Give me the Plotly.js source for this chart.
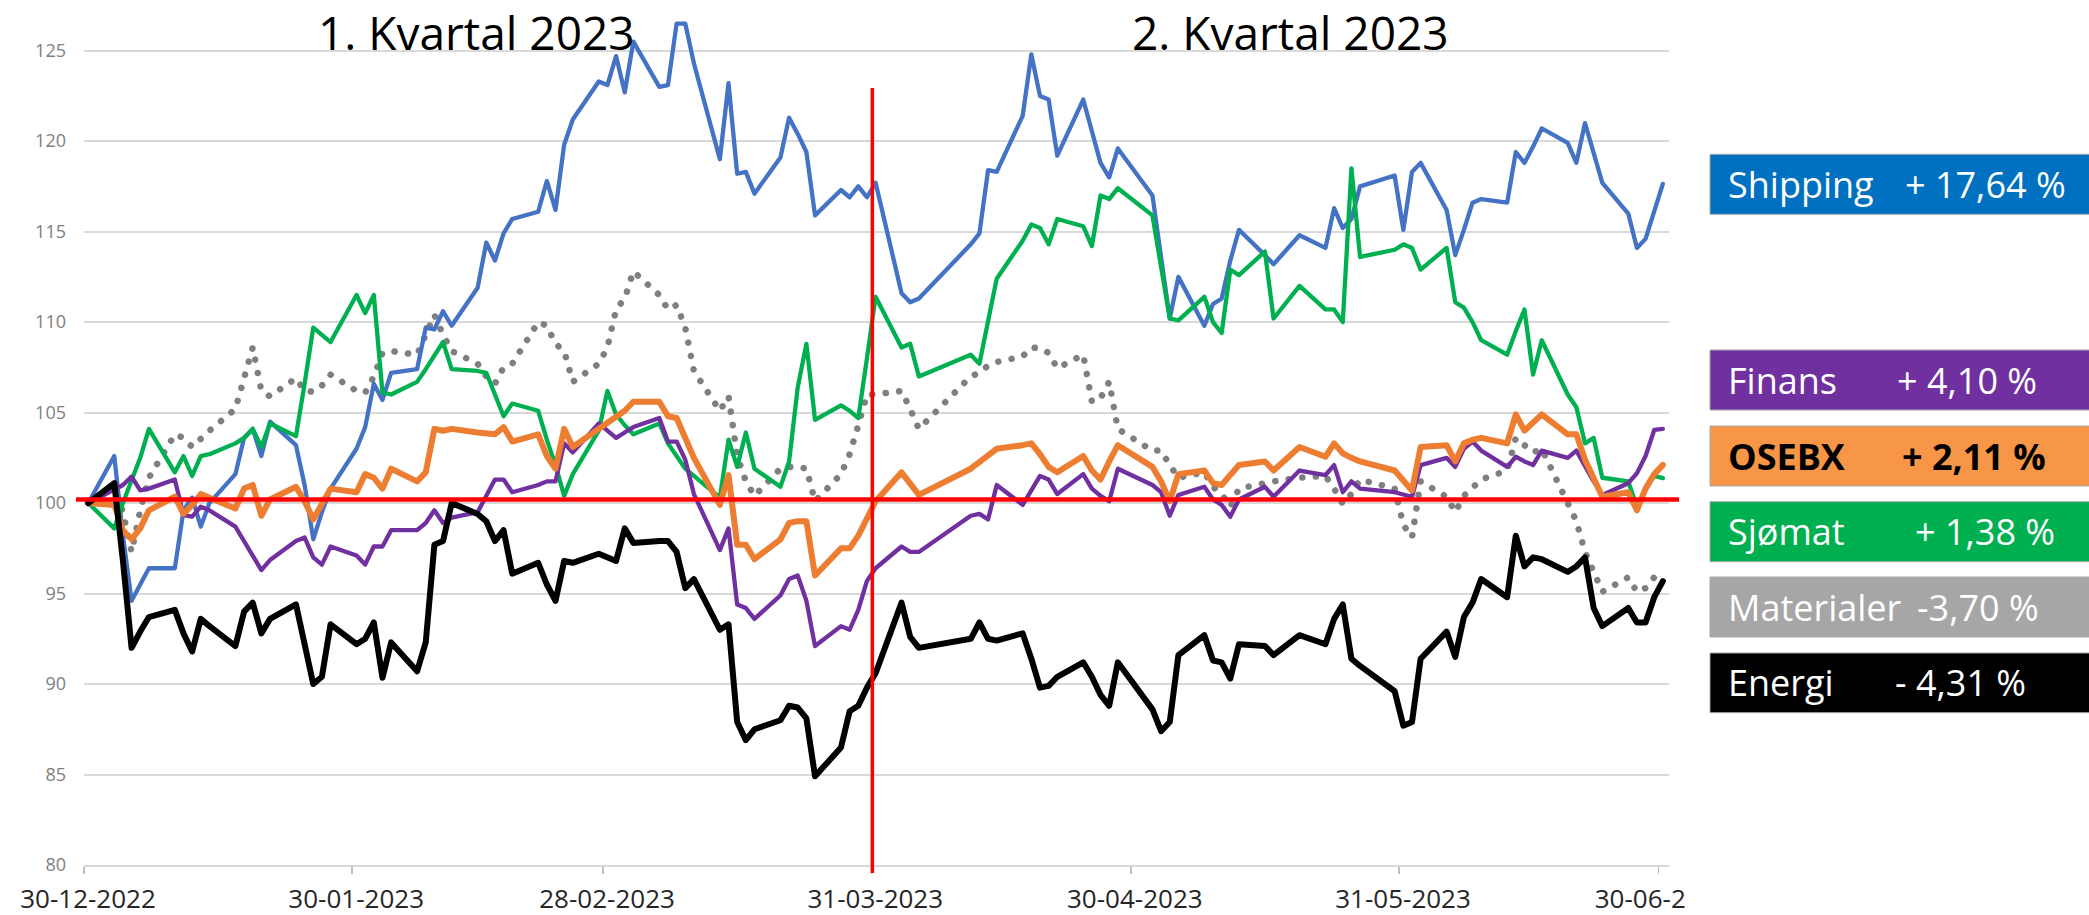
<!DOCTYPE html>
<html>
<head>
<meta charset="utf-8">
<script src="https://cdn.plot.ly/plotly-3.0.1.min.js"></script>
<style>
html,body{margin:0;padding:0;background:#ffffff;}
#chart{width:2089px;height:915px;}
.scatterlayer .js-line{stroke-linejoin:round;stroke-linecap:round;}
</style>
</head>
<body>
<div id="chart"></div>
<script>
// ---------- DATA ----------
const dates = [
 '2022-12-30',
 '2023-01-02','2023-01-03','2023-01-04','2023-01-05','2023-01-06',
 '2023-01-09','2023-01-10','2023-01-11','2023-01-12','2023-01-13',
 '2023-01-16','2023-01-17','2023-01-18','2023-01-19','2023-01-20',
 '2023-01-23','2023-01-24','2023-01-25','2023-01-26','2023-01-27',
 '2023-01-30','2023-01-31','2023-02-01','2023-02-02','2023-02-03',
 '2023-02-06','2023-02-07','2023-02-08','2023-02-09','2023-02-10',
 '2023-02-13','2023-02-14','2023-02-15','2023-02-16','2023-02-17',
 '2023-02-20','2023-02-21','2023-02-22','2023-02-23','2023-02-24',
 '2023-02-27','2023-02-28','2023-03-01','2023-03-02','2023-03-03',
 '2023-03-06','2023-03-07','2023-03-08','2023-03-09','2023-03-10',
 '2023-03-13','2023-03-14','2023-03-15','2023-03-16','2023-03-17',
 '2023-03-20','2023-03-21','2023-03-22','2023-03-23','2023-03-24',
 '2023-03-27','2023-03-28','2023-03-29','2023-03-30','2023-03-31',
 '2023-04-03','2023-04-04','2023-04-05',
 '2023-04-11','2023-04-12','2023-04-13','2023-04-14',
 '2023-04-17','2023-04-18','2023-04-19','2023-04-20','2023-04-21',
 '2023-04-24','2023-04-25','2023-04-26','2023-04-27','2023-04-28',
 '2023-05-02','2023-05-03','2023-05-04','2023-05-05',
 '2023-05-08','2023-05-09','2023-05-10','2023-05-11','2023-05-12',
 '2023-05-15','2023-05-16','2023-05-19',
 '2023-05-22','2023-05-23','2023-05-24','2023-05-25','2023-05-26',
 '2023-05-30','2023-05-31','2023-06-01','2023-06-02',
 '2023-06-05','2023-06-06','2023-06-07','2023-06-08','2023-06-09',
 '2023-06-12','2023-06-13','2023-06-14','2023-06-15','2023-06-16',
 '2023-06-19','2023-06-20','2023-06-21','2023-06-22','2023-06-23',
 '2023-06-26','2023-06-27','2023-06-28','2023-06-29','2023-06-30'
];

const shipping = [
 100, 102.6, 98.2, 94.6, 95.5, 96.4, 96.4, 99.6, 100.3, 98.7,
 100.0, 101.6, 103.6, 104.1, 102.6, 104.5, 103.2, 101.0, 98.0, 99.5,
 100.8, 103.0, 104.2, 106.6, 105.7, 107.2, 107.4, 109.7, 109.6, 110.6,
 109.8, 111.9, 114.4, 113.4, 114.9, 115.7, 116.1, 117.8, 116.2, 119.8,
 121.2, 123.3, 123.1, 124.7, 122.7, 125.5, 123.0, 123.1, 126.5, 126.5,
 124.3, 119.0, 123.2, 118.2, 118.3, 117.1, 119.1, 121.3, 120.4, 119.4,
 115.9, 117.3, 116.9, 117.5, 116.9, 117.7, 111.6, 111.1, 111.3, 114.3,
 114.9, 118.4, 118.3, 121.4, 124.8, 122.5, 122.3, 119.2, 122.3, 120.5,
 118.8, 118.0, 119.6, 117.0, 113.5, 110.2, 112.5, 109.8, 111.0, 111.3,
 113.4, 115.1, 113.7, 113.2, 114.8, 114.1, 116.3, 115.2, 115.7, 117.5,
 118.1, 115.1, 118.3, 118.8, 116.2, 113.7, 115.1, 116.6, 116.8, 116.6,
 119.4, 118.8, 119.7, 120.7, 119.9, 118.8, 121.0, 119.3, 117.7, 116.0,
 114.1, 114.6, 116.2, 117.64
];

const sjomat = [
 100, 98.6, 100.0, 101.2, 102.5, 104.1, 101.7, 102.6, 101.5, 102.6,
 102.7, 103.3, 103.6, 104.1, 103.1, 104.4, 103.7, 106.6, 109.7, 109.3,
 108.9, 111.5, 110.5, 111.5, 106.1, 106.0, 106.7, 107.4, 108.1, 108.9,
 107.4, 107.3, 107.2, 106.0, 104.8, 105.5, 105.1, 103.5, 102.1, 100.4,
 101.6, 104.0, 106.2, 104.9, 104.3, 103.8, 104.4, 103.3, 102.6, 101.9,
 101.5, 100.3, 103.5, 102.0, 103.9, 101.9, 100.9, 102.3, 106.4, 108.8,
 104.6, 105.4, 105.1, 104.7, 108.0, 111.4, 108.6, 108.8, 107.0, 108.2,
 107.7, 110.0, 112.4, 114.5, 115.4, 115.2, 114.3, 115.7, 115.3, 114.2,
 117.0, 116.8, 117.4, 115.9, 113.0, 110.2, 110.1, 111.4, 110.0, 109.4,
 112.9, 112.6, 113.9, 110.2, 112.0, 110.7, 110.7, 110.0, 118.5, 113.6,
 114.0, 114.3, 114.1, 112.9, 114.1, 111.1, 110.8, 110.0, 109.0, 108.2,
 109.5, 110.7, 107.1, 109.0, 106.0, 105.3, 103.3, 103.6, 101.4, 101.2,
 99.8, 100.8, 101.5, 101.38
];

const osebx = [
 100, 99.9, 98.5, 98.0, 98.6, 99.6, 100.35, 99.4, 99.9, 100.5,
 100.3, 99.7, 100.8, 101.0, 99.3, 100.2, 100.9, 100.1, 99.1, 100.0,
 100.8, 100.6, 101.6, 101.4, 100.8, 101.9, 101.2, 101.7, 104.1, 104.0,
 104.1, 103.9, 103.85, 103.8, 104.2, 103.4, 103.8, 102.6, 101.9, 104.1,
 103.1, 104.1, 104.4, 104.7, 105.1, 105.6, 105.6, 104.8, 104.7, 103.6,
 102.5, 99.9, 101.55, 97.7, 97.7, 96.9, 98.0, 98.9, 99.0, 99.0,
 96.0, 97.5, 97.5, 98.2, 99.2, 100.1, 101.7, 101.1, 100.45, 101.9,
 102.3, 102.6, 103.0, 103.2, 103.3, 102.7, 102.0, 101.7, 102.6, 101.8,
 101.3, 102.3, 103.2, 102.0, 101.2, 100.1, 101.6, 101.8, 101.1, 101.0,
 101.6, 102.1, 102.3, 101.8, 103.1, 102.56, 103.3, 102.75, 102.5, 102.3,
 101.8, 101.2, 100.7, 103.1, 103.2, 102.3, 103.3, 103.5, 103.6, 103.3,
 104.9, 104.0, 104.5, 104.9, 103.8, 103.8, 102.4, 101.4, 100.35, 100.6,
 99.6, 100.8, 101.6, 102.11
];

const finans = [
 100, 100.8, 101.0, 101.46, 100.7, 100.8, 101.3, 99.34, 99.25, 99.8,
 99.6, 98.7, 97.9, 97.1, 96.3, 96.85, 97.9, 98.1, 97.0, 96.6,
 97.6, 97.1, 96.6, 97.6, 97.6, 98.5, 98.5, 98.9, 99.6, 98.9,
 99.2, 99.5, 100.4, 101.3, 101.3, 100.6, 101.0, 101.2, 101.2, 103.3,
 102.8, 104.4, 104.0, 103.6, 103.9, 104.2, 104.7, 103.4, 103.4, 102.4,
 100.5, 97.4, 98.6, 94.4, 94.2, 93.6, 94.9, 95.8, 96.0, 94.6,
 92.1, 93.2, 93.0, 94.1, 95.7, 96.4, 97.6, 97.3, 97.3, 99.3,
 99.4, 99.1, 101.0, 99.9, 100.7, 101.5, 101.3, 100.5, 101.6, 100.8,
 100.4, 100.1, 101.9, 101.0, 100.6, 99.3, 100.45, 100.9, 100.2, 99.9,
 99.25, 100.2, 100.9, 100.35, 101.8, 101.55, 102.1, 100.6, 101.2, 100.8,
 100.6, 100.5, 100.35, 102.1, 102.5, 102.0, 103.0, 103.4, 102.9, 102.0,
 102.56, 102.3, 102.1, 102.9, 102.5, 102.9, 102.0, 101.2, 100.45, 101.1,
 101.65, 102.6, 104.04, 104.1
];

const materialer = [
 100, 100.9, 99.5, 97.3, 99.6, 101.4, 103.8, 103.6, 103.1, 103.6,
 104.0, 105.2, 106.8, 108.6, 106.2, 105.9, 106.9, 106.2, 106.15, 106.5,
 107.1, 106.2, 106.1, 107.0, 108.3, 108.4, 108.2, 109.3, 110.4, 109.3,
 108.4, 107.7, 107.0, 106.6, 107.5, 107.7, 110.0, 109.8, 108.8, 108.4,
 106.7, 107.7, 108.6, 110.7, 111.3, 112.8, 111.5, 110.7, 110.95, 109.7,
 107.3, 105.1, 105.9, 102.6, 101.2, 100.4, 101.9, 102.0, 102.0, 101.9,
 100.1, 101.6, 102.7, 104.3, 106.0, 106.0, 106.2, 105.2, 104.1, 107.0,
 107.2, 107.6, 107.8, 108.1, 108.6, 108.55, 108.3, 107.45, 108.2, 105.6,
 105.8, 106.7, 104.1, 102.9, 102.9, 102.1, 101.4, 101.7, 100.9, 100.5,
 99.8, 100.8, 101.1, 101.2, 101.4, 101.5, 100.8, 99.95, 100.5, 101.3,
 100.8, 98.8, 98.1, 101.2, 100.35, 99.5, 100.4, 100.9, 101.3, 101.8,
 103.6, 103.2, 102.8, 103.0, 99.9, 99.0, 97.3, 96.3, 95.1, 95.9,
 95.1, 95.3, 95.9, 96.3
];

const energi = [
 100, 101.1, 96.8, 92.0, 92.9, 93.7, 94.1, 92.8, 91.8, 93.6,
 93.2, 92.1, 94.0, 94.5, 92.8, 93.6, 94.4, 92.3, 90.0, 90.4,
 93.3, 92.2, 92.5, 93.4, 90.35, 92.3, 90.7, 92.3, 97.7, 97.9,
 100.0, 99.4, 99.0, 97.9, 98.5, 96.1, 96.7, 95.5, 94.6, 96.8,
 96.7, 97.2, 97.0, 96.8, 98.6, 97.8, 97.9, 97.9, 97.3, 95.3,
 95.8, 93.0, 93.3, 87.9, 86.9, 87.5, 88.0, 88.8, 88.7, 88.1,
 84.9, 86.5, 88.5, 88.8, 89.8, 90.6, 94.5, 92.6, 92.0, 92.5,
 93.4, 92.5, 92.4, 92.8, 91.4, 89.8, 89.9, 90.4, 91.2, 90.4,
 89.4, 88.8, 91.2, 88.6, 87.4, 87.9, 91.6, 92.7, 91.3, 91.2,
 90.3, 92.2, 92.1, 91.6, 92.7, 92.2, 93.6, 94.4, 91.4, 91.0,
 89.6, 87.7, 87.9, 91.4, 92.9, 91.5, 93.7, 94.5, 95.8, 94.8,
 98.2, 96.5, 97.0, 96.9, 96.2, 96.5, 97.0, 94.2, 93.2, 94.2,
 93.4, 93.4, 94.8, 95.69
];

const tickDates  = ['2022-12-30','2023-01-30','2023-02-28','2023-03-31','2023-04-30','2023-05-31','2023-06-30'];
const tickLabels = ['30-12-2022','30-01-2023','28-02-2023','31-03-2023','30-04-2023','31-05-2023','30-06-2023'];
const yTicks = [80, 85, 90, 95, 100, 105, 110, 115, 120, 125];

const quarterTitles = ['1. Kvartal 2023', '2. Kvartal 2023'];
const boxNames  = ['Shipping', 'Finans', 'OSEBX', 'Sjømat', 'Materialer', 'Energi'];
const boxValues = ['+ 17,64 %', '+ 4,10 %', '+ 2,11 %', '+ 1,38 %', '-3,70 %', '- 4,31 %'];
const baseLevel = 100.2;         // red reference line level
const quarterSplit = '2023-03-30 15:00';

// ---------- LAYOUT GEOMETRY (pixels) ----------
const W = 2089, H = 915;
const PL = 84, PR = 1669, PT = 2, PB = 865;
const pw = PR - PL, ph = PB - PT;
const px2x = p => (p - PL) / pw;
const px2y = p => (PB - p) / ph;
const yTop = 80 + ph / 18.096;

const font = "'Open Sans', 'Noto Sans', sans-serif";

const seriesStyle = [
  {name: boxNames[4], y: materialer, color: '#7F7F7F', width: 6.5, dash: '0.1px,13.5px'},
  {name: boxNames[0], y: shipping,   color: '#4472C4', width: 4.3, dash: 'solid'},
  {name: boxNames[3], y: sjomat,     color: '#00B050', width: 4.3, dash: 'solid'},
  {name: boxNames[1], y: finans,     color: '#7030A0', width: 4.3, dash: 'solid'},
  {name: boxNames[2], y: osebx,      color: '#ED7D31', width: 6,   dash: 'solid'},
  {name: boxNames[5], y: energi,     color: '#000000', width: 6,   dash: 'solid'}
];

const traces = seriesStyle.map(s => ({
  type: 'scatter', mode: 'lines', name: s.name,
  x: dates, y: s.y,
  line: {color: s.color, width: s.width, dash: s.dash, shape: 'linear'},
  hoverinfo: 'skip'
}));

// ticks sit between day slots (half a day before the date)
const halfDay = 12 * 3600 * 1000;
const tickPos = tickDates.map(d => Date.parse(d + 'T00:00:00Z') - halfDay);

const shapes = [];
const annotations = [];

// red reference lines
shapes.push({type: 'line', xref: 'paper', yref: 'y', x0: px2x(76), x1: px2x(1679),
  y0: baseLevel, y1: baseLevel, line: {color: '#FF0000', width: 4.5}, layer: 'above'});
shapes.push({type: 'line', xref: 'x', yref: 'paper', x0: quarterSplit, x1: quarterSplit,
  y0: px2y(873), y1: px2y(88), line: {color: '#FF0000', width: 3.5}, layer: 'above'});

// cover the cut-off part of the last date label (as in the reference)
shapes.push({type: 'rect', xref: 'paper', yref: 'paper', x0: px2x(1686), x1: px2x(1770),
  y0: px2y(915), y1: px2y(874), fillcolor: '#ffffff', line: {width: 0}, layer: 'above'});

// quarter titles
[[476.6, quarterTitles[0]], [1290.5, quarterTitles[1]]].forEach(([cx, t]) => {
  annotations.push({xref: 'paper', yref: 'paper', x: px2x(cx), y: px2y(32),
    xanchor: 'center', yanchor: 'middle', text: t, showarrow: false,
    font: {family: font, size: 46, color: '#000000'}});
});

// side boxes
const boxes = [
  {top: 154.3, bot: 214.3, fill: '#0070C0', txt: '#ffffff', bold: false, vx: 1903},
  {top: 350,   bot: 410,   fill: '#7030A0', txt: '#ffffff', bold: false, vx: 1895},
  {top: 426,   bot: 486,   fill: '#F79646', txt: '#000000', bold: true,  vx: 1900},
  {top: 501.7, bot: 561.7, fill: '#00B050', txt: '#ffffff', bold: false, vx: 1913},
  {top: 577,   bot: 637,   fill: '#A6A6A6', txt: '#ffffff', bold: false, vx: 1915},
  {top: 653,   bot: 712.7, fill: '#000000', txt: '#ffffff', bold: false, vx: 1893}
];
boxes.forEach((b, i) => {
  shapes.push({type: 'rect', xref: 'paper', yref: 'paper',
    x0: px2x(1710), x1: px2x(2095), y0: px2y(b.bot), y1: px2y(b.top),
    fillcolor: b.fill, line: {color: '#a8a8a8', width: 1}, layer: 'above'});
  const cy = px2y((b.top + b.bot) / 2);
  const wrap = s => b.bold ? '<b>' + s + '</b>' : s;
  annotations.push({xref: 'paper', yref: 'paper', x: px2x(1726), y: cy,
    xanchor: 'left', yanchor: 'middle', text: wrap(boxNames[i]), showarrow: false,
    font: {family: font, size: 36, color: b.txt}});
  annotations.push({xref: 'paper', yref: 'paper', x: px2x(b.vx), y: cy,
    xanchor: 'left', yanchor: 'middle', text: wrap(boxValues[i]), showarrow: false,
    font: {family: font, size: 36, color: b.txt}});
});

const layout = {
  width: W, height: H,
  margin: {l: PL, r: W - PR, t: PT, b: H - PB, pad: 0},
  paper_bgcolor: '#ffffff', plot_bgcolor: '#ffffff',
  showlegend: false,
  font: {family: font},
  xaxis: {
    type: 'date',
    range: ['2022-12-29 12:00', '2023-06-30 17:00'],
    tickmode: 'array', tickvals: tickPos, ticktext: tickLabels,
    ticklabelshift: 4,
    ticks: 'outside', ticklen: 7, tickwidth: 1.5, tickcolor: '#BFBFBF',
    showgrid: false, zeroline: false,
    showline: true, linecolor: '#D9D9D9', linewidth: 2,
    tickfont: {family: font, size: 26, color: '#262626'},
    ticklabelstandoff: 3,
    fixedrange: true
  },
  yaxis: {
    range: [80, yTop],
    tickmode: 'array', tickvals: yTicks,
    showgrid: true, gridcolor: '#D9D9D9', gridwidth: 2,
    zeroline: false, showline: false, ticks: '',
    tickfont: {family: font, size: 18, color: '#808080'},
    ticklabelstandoff: 17,
    fixedrange: true
  },
  shapes: shapes,
  annotations: annotations
};

Plotly.newPlot('chart', traces, layout, {displayModeBar: false, staticPlot: true});
</script>
</body>
</html>
